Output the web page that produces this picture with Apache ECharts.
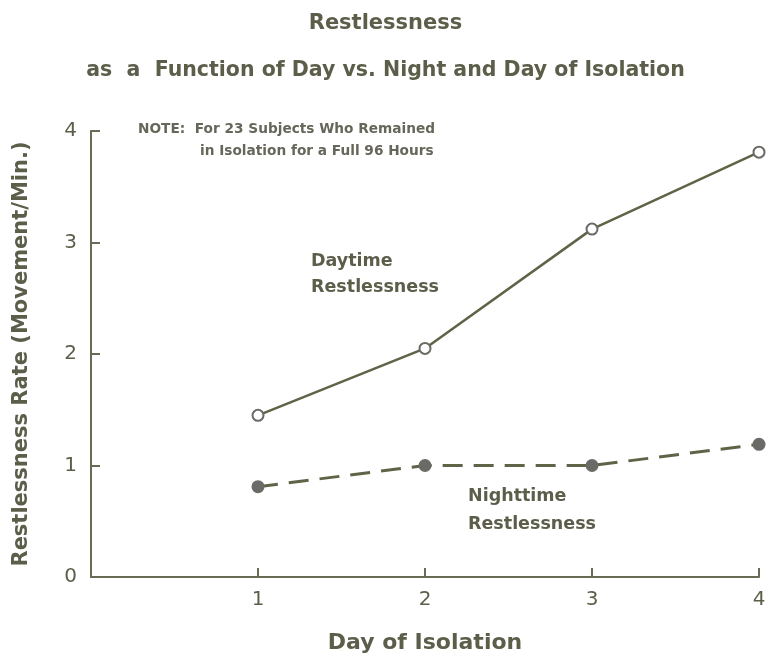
<!DOCTYPE html>
<html>
<head>
<meta charset="utf-8">
<script src="https://cdn.jsdelivr.net/npm/echarts@6/dist/echarts.min.js"></script>
<style>
  html, body { margin: 0; padding: 0; background: #fff; }
  #main { width: 771px; height: 659px; }
</style>
</head>
<body>
<div id="main"></div>
<script>
  // data
  var days = [1, 2, 3, 4];
  var daytime = [1.45, 2.05, 3.12, 3.81];
  var nighttime = [0.81, 1.0, 1.0, 1.19];
  var xTicks = [0, 1, 2, 3, 4];
  var yTicks = [0, 1, 2, 3, 4];

  var ink = '#5c5e4a';
  var lineColor = '#5f6447';
  var markColor = '#6a6a66';
  var font = 'DejaVu Sans';

  function pairs(xs, ys) {
    return xs.map(function (x, i) { return [x, ys[i]]; });
  }

  var myChart = echarts.init(document.getElementById('main'));
  myChart.setOption({
    backgroundColor: '#ffffff',
    animation: false,
    title: [
      {
        text: 'Restlessness',
        left: 'center',
        top: 8,
        textStyle: { color: ink, fontFamily: font, fontSize: 21, fontWeight: 'bold' }
      },
      {
        text: 'as  a  Function of Day vs. Night and Day of Isolation',
        left: 'center',
        top: 55,
        textStyle: { color: ink, fontFamily: font, fontSize: 20.5, fontWeight: 'bold' }
      }
    ],
    grid: { left: 91, right: 12, top: 131, bottom: 82 },
    xAxis: {
      type: 'value',
      min: 0,
      max: 4,
      interval: 1,
      name: 'Day of Isolation',
      nameLocation: 'middle',
      nameGap: 55,
      nameTextStyle: { color: ink, fontFamily: font, fontSize: 22, fontWeight: 'bold' },
      axisLine: { lineStyle: { color: '#6a6b55', width: 2 } },
      axisTick: { inside: true, length: 9, lineStyle: { color: '#6a6b55', width: 2 } },
      axisLabel: {
        color: ink, fontFamily: font, fontSize: 20, margin: 13,
        formatter: function (v) { return xTicks.indexOf(v) > 0 ? String(v) : ''; }
      },
      splitLine: { show: false }
    },
    yAxis: {
      type: 'value',
      min: 0,
      max: 4,
      interval: 1,
      name: 'Restlessness Rate (Movement/Min.)',
      nameLocation: 'middle',
      nameGap: 59,
      nameTextStyle: { color: ink, fontFamily: font, fontSize: 21, fontWeight: 'bold' },
      axisLine: { show: true, lineStyle: { color: '#6a6b55', width: 2 } },
      axisTick: { show: true, inside: true, length: 9, lineStyle: { color: '#6a6b55', width: 2 } },
      axisLabel: {
        color: ink, fontFamily: font, fontSize: 20, margin: 14,
        formatter: function (v) { return yTicks.indexOf(v) >= 0 ? String(v) : ''; }
      },
      splitLine: { show: false }
    },
    graphic: [
      {
        type: 'text', left: 138, top: 122,
        style: {
          text: 'NOTE:  For 23 Subjects Who Remained',
          fill: '#66665a', font: 'bold 13.7px "DejaVu Sans"'
        }
      },
      {
        type: 'text', left: 200, top: 144,
        style: {
          text: 'in Isolation for a Full 96 Hours',
          fill: '#66665a', font: 'bold 13.7px "DejaVu Sans"'
        }
      },
      {
        type: 'text', left: 311, top: 248,
        style: {
          text: 'Daytime\nRestlessness',
          fill: ink, font: 'bold 17.5px "DejaVu Sans"', lineHeight: 26
        }
      },
      {
        type: 'text', left: 468, top: 482,
        style: {
          text: 'Nighttime\nRestlessness',
          fill: ink, font: 'bold 17.5px "DejaVu Sans"', lineHeight: 28
        }
      }
    ],
    series: [
      {
        name: 'Daytime Restlessness',
        type: 'line',
        data: pairs(days, daytime),
        symbol: 'circle',
        symbolSize: 11,
        showAllSymbol: true,
        lineStyle: { color: lineColor, width: 2.5 },
        itemStyle: { color: '#ffffff', borderColor: markColor, borderWidth: 2 },
        z: 3
      },
      {
        name: 'Nighttime Restlessness',
        type: 'line',
        data: pairs(days, nighttime),
        symbol: 'circle',
        symbolSize: 13,
        showAllSymbol: true,
        lineStyle: { color: lineColor, width: 3, type: [20, 11] },
        itemStyle: { color: markColor, borderColor: markColor, borderWidth: 0 },
        z: 3
      }
    ]
  });
</script>
</body>
</html>
